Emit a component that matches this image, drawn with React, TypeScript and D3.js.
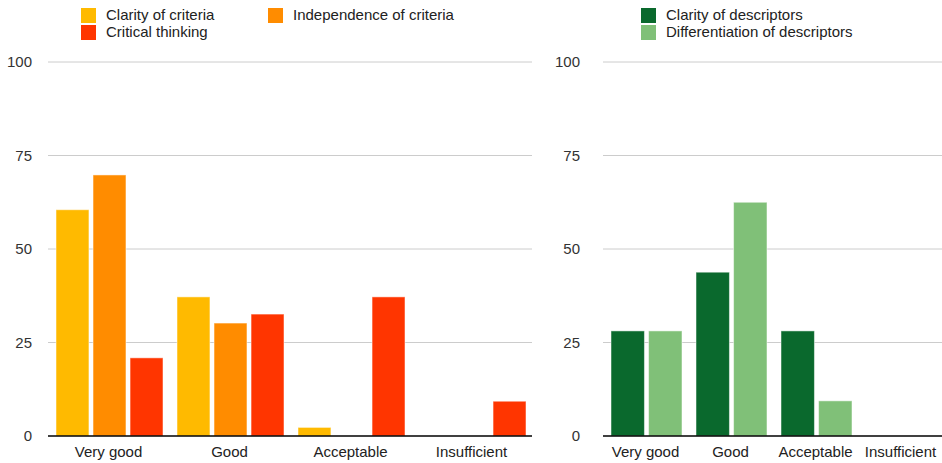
import React, { useEffect, useRef } from 'react';
import * as d3 from 'd3';

const categories = ['Very good', 'Good', 'Acceptable', 'Insufficient'];
const yTicks = [0, 25, 50, 75, 100];

const criteriaSeries = ['Clarity of criteria', 'Independence of criteria', 'Critical thinking'];
const clarityOfCriteria = [60.5, 37.2, 2.3, 0];
const independenceOfCriteria = [69.8, 30.2, 0, 0];
const criticalThinking = [20.9, 32.6, 37.2, 9.3];
const criteriaColors = ['#FFBA00', '#FF8C00', '#FF3500'];

const descriptorSeries = ['Clarity of descriptors', 'Differentiation of descriptors'];
const clarityOfDescriptors = [28.1, 43.8, 28.1, 0];
const differentiationOfDescriptors = [28.1, 62.5, 9.4, 0];
const descriptorColors = ['#0A692D', '#80C078'];

const FONT = 'Helvetica, "Liberation Sans", Arial, sans-serif';

interface Panel {
  left: number;
  right: number;
  tickX: number;
  legendX: number;
  legendCols: number[];
  series: string[];
  values: number[][];
  colors: string[];
}

export default function App() {
  const ref = useRef<SVGSVGElement>(null);

  useEffect(() => {
    const svg = d3.select(ref.current);
    svg.selectAll('*').remove();

    const top = 62;
    const bottom = 436;

    const yScale = d3.scaleLinear().domain([0, 100]).range([bottom, top]);

    const panels: Panel[] = [
      {
        left: 48,
        right: 532,
        tickX: 32,
        legendX: 81,
        legendCols: [0, 187],
        series: criteriaSeries,
        values: [clarityOfCriteria, independenceOfCriteria, criticalThinking],
        colors: criteriaColors,
      },
      {
        left: 603,
        right: 943,
        tickX: 580,
        legendX: 641,
        legendCols: [0],
        series: descriptorSeries,
        values: [clarityOfDescriptors, differentiationOfDescriptors],
        colors: descriptorColors,
      },
    ];

    panels.forEach((p) => {
      const g = svg.append('g');

      // gridlines
      g.selectAll('line.grid')
        .data(yTicks.filter((t) => t > 0))
        .enter()
        .append('line')
        .attr('x1', p.left)
        .attr('x2', p.right)
        .attr('y1', (d) => yScale(d))
        .attr('y2', (d) => yScale(d))
        .attr('stroke', '#cccccc')
        .attr('stroke-width', 1);

      // tick labels
      g.selectAll('text.tick')
        .data(yTicks)
        .enter()
        .append('text')
        .attr('x', p.tickX)
        .attr('y', (d) => yScale(d))
        .attr('dy', '0.35em')
        .attr('text-anchor', 'end')
        .attr('font-family', FONT)
        .attr('font-size', 15)
        .attr('fill', '#333')
        .text((d) => d);

      const x0 = d3
        .scaleBand()
        .domain(categories)
        .range([p.left, p.right])
        .padding(0);

      const x1 = d3
        .scaleBand()
        .domain(p.series)
        .range([8, x0.bandwidth() - 6])
        .paddingInner(0.11)
        .paddingOuter(0);

      const rows = categories.flatMap((c, ci) =>
        p.series.map((s, si) => ({ c, s, si, v: p.values[si][ci] }))
      );

      g.selectAll('rect.bar')
        .data(rows.filter((d) => d.v > 0))
        .enter()
        .append('rect')
        .attr('x', (d) => (x0(d.c) as number) + (x1(d.s) as number))
        .attr('y', (d) => yScale(d.v))
        .attr('width', x1.bandwidth())
        .attr('height', (d) => yScale(0) - yScale(d.v))
        .attr('fill', (d) => p.colors[d.si])
        .attr('stroke', 'rgba(255,255,255,0.5)')
        .attr('stroke-width', 1);

      // baseline
      g.append('line')
        .attr('x1', p.left)
        .attr('x2', p.right)
        .attr('y1', bottom)
        .attr('y2', bottom)
        .attr('stroke', '#000')
        .attr('stroke-width', 1.5);

      // category labels
      g.selectAll('text.cat')
        .data(categories)
        .enter()
        .append('text')
        .attr('x', (d) => (x0(d) as number) + x0.bandwidth() / 2)
        .attr('y', 457)
        .attr('text-anchor', 'middle')
        .attr('font-family', FONT)
        .attr('font-size', 15)
        .attr('fill', '#222')
        .text((d) => d);

      // legend
      const legend = g
        .selectAll('g.legend')
        .data(p.series)
        .enter()
        .append('g')
        .attr('transform', (d, i) => {
          const col = i % p.legendCols.length;
          const row = Math.floor(i / p.legendCols.length);
          return `translate(${p.legendX + p.legendCols[col]}, ${8 + row * 17})`;
        });

      legend
        .append('rect')
        .attr('width', 15)
        .attr('height', 15)
        .attr('fill', (d, i) => p.colors[i]);

      legend
        .append('text')
        .attr('x', 25)
        .attr('y', 12)
        .attr('font-family', FONT)
        .attr('font-size', 15)
        .attr('fill', '#222')
        .text((d) => d);
    });
  }, []);

  return (
    <svg
      ref={ref}
      width={942}
      height={463}
      style={{ position: 'absolute', left: 0, top: 0, background: '#fff' }}
    />
  );
}
